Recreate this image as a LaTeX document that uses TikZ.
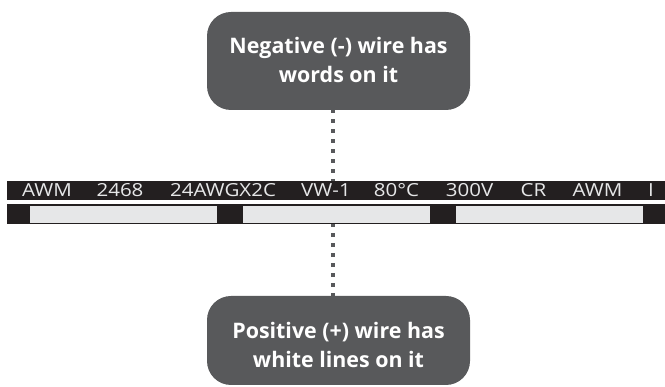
\documentclass[tikz,border=0pt]{standalone}
\usepackage{fontspec}
\setmainfont{Open Sans}
\newfontfamily\wirefont{Open Sans}
\definecolor{boxgray}{HTML}{58595B}
\definecolor{wireblack}{HTML}{231F20}
\definecolor{stripe}{HTML}{E6E7E8}
\newcommand{\wword}[1]{\scalebox{1.14}[1]{#1}}
\begin{document}
\begin{tikzpicture}[x=1pt,y=-1pt,
  callout/.style={fill=boxgray, rounded corners=24pt, minimum width=263pt, inner sep=0pt, draw=none},
  callouttext/.style={text=white, font=\bfseries\fontsize{21.4}{29}\selectfont, align=center, inner sep=0pt},
  wordlabel/.style={text=stripe, font=\wirefont\fontsize{18}{18}\selectfont, anchor=base, inner sep=0pt},
  stripebox/.style={fill=stripe, minimum width=187pt, minimum height=16.5pt, inner sep=0pt},
  dotline/.style={draw=boxgray, line width=4pt, dash pattern=on 4pt off 6pt, dash phase=1pt}]
\useasboundingbox (0,0) rectangle (665,387);
% wire with printed words
\node[fill=wireblack, minimum width=658pt, minimum height=19pt, inner sep=0pt] (wire) at (336,190.5) {};
% wire with white lines
\node[fill=wireblack, minimum width=658pt, minimum height=20pt, inner sep=0pt] (pos) at (336,214) {};
\node[stripebox] (s1) at (123.5,214.5) {};
\node[stripebox] (s2) at (336.5,214.5) {};
\node[stripebox] (s3) at (549.5,214.5) {};
% words
\node[wordlabel] (w1) at (47,197) {\wword{AWM}};
\node[wordlabel] (w2) at (120,197) {\wword{2468}};
\node[wordlabel] (w3) at (223,197) {\wword{24AWGX2C}};
\node[wordlabel] (w4) at (326,197) {\wword{VW-1}};
\node[wordlabel] (w5) at (396.5,197) {\wword{80°C}};
\node[wordlabel] (w6) at (469.5,197) {\wword{300V}};
\node[wordlabel] (w7) at (533.5,197) {\wword{CR}};
\node[wordlabel] (w8) at (597.5,197) {\wword{AWM}};
\node[wordlabel] (w9) at (651,197) {\wword{I}};
% callouts
\node[callout, minimum height=98pt] (neg) at (338.5,61) {};
\node[callouttext] (negt) at (338.5,59.5) {Negative (-) wire has\\words on it};
\node[callout, minimum height=89pt] (posb) at (338.5,340.5) {};
\node[callouttext] (post) at (338.5,344.5) {Positive (+) wire has\\white lines on it};
% connectors
\coordinate (dx) at (333,0);
\draw[dotline] (neg.south -| dx) -- (wire.north -| dx);
\draw[dotline] (pos.south -| dx) -- (posb.north -| dx);
\end{tikzpicture}
\end{document}
